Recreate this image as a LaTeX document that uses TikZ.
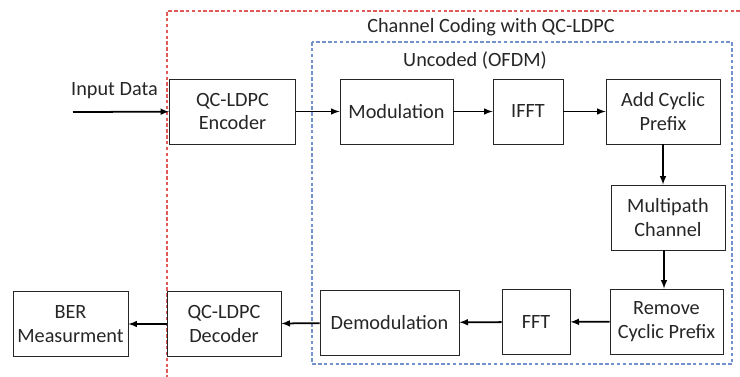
\documentclass[tikz,border=0pt]{standalone}
\usepackage{fontspec}
\setmainfont{Carlito}
\usetikzlibrary{arrows}
\definecolor{codered}{RGB}{225,90,90}
\definecolor{ofdmblue}{RGB}{115,145,205}

\begin{document}
\begin{tikzpicture}[x=0.03cm, y=-0.03cm, >=latex, font=\fontsize{17.3}{20}\selectfont,
  block/.style={draw=black!85, line width=0.75pt, align=center, inner sep=0pt, minimum height=1.95cm, text=black!85},
  label/.style={anchor=base, text=black!85},
  frame/.style={line width=0.9pt, dash pattern=on 3pt off 2pt}]

\useasboundingbox (0,0) rectangle (740,377);

% frames
\draw[frame, codered] (740,11) -- (167,11) -- (167,377);
\draw[frame, ofdmblue] (312,42) rectangle (732,364);
\node[label] (cc) at (491,33) {Channel Coding with QC-LDPC};
\node[label] (un) at (475,67) {Uncoded (OFDM)};

% transmitter
\coordinate (in) at (73,112);
\node[label] (id) at (114.5,96) {Input Data};
\node[block, minimum width=3.78cm] (enc)   at (232.5,111.5) {QC-LDPC\\Encoder};
\node[block, minimum width=3.39cm] (mod)   at (396.5,111.5) {Modulation};
\node[block, minimum width=2.10cm] (ifft)  at (528,111.5)   {IFFT};
\node[block, minimum width=3.42cm] (acp)   at (663,111.5)   {Add Cyclic\\Prefix};
\node[block, minimum width=3.42cm] (mpc)   at (668,217.5)   {Multipath\\Channel};

% receiver
\node[block, minimum width=3.39cm] (rcp)   at (666.5,321.5) {Remove\\Cyclic Prefix};
\node[block, minimum width=2.04cm] (fft)   at (536,322)     {FFT};
\node[block, minimum width=4.17cm] (demod) at (389.5,322.5) {Demodulation};
\node[block, minimum width=3.42cm] (dec)   at (224,324)     {QC-LDPC\\Decoder};
\node[block, minimum width=3.45cm] (ber)   at (70.5,324)    {BER\\Measurment};

\path[->, line width=1.5pt]
      (in)    edge (enc)
      (enc)   edge (mod)
      (mod)   edge (ifft)
      (ifft)  edge (acp)
      (acp.south) edge (acp.south |- mpc.north)
      (mpc.south -| 664,0) edge (rcp.north -| 664,0)
      (rcp)   edge (fft)
      (fft)   edge (demod)
      (demod) edge (dec)
      (dec)   edge (ber);
\end{tikzpicture}
\end{document}
